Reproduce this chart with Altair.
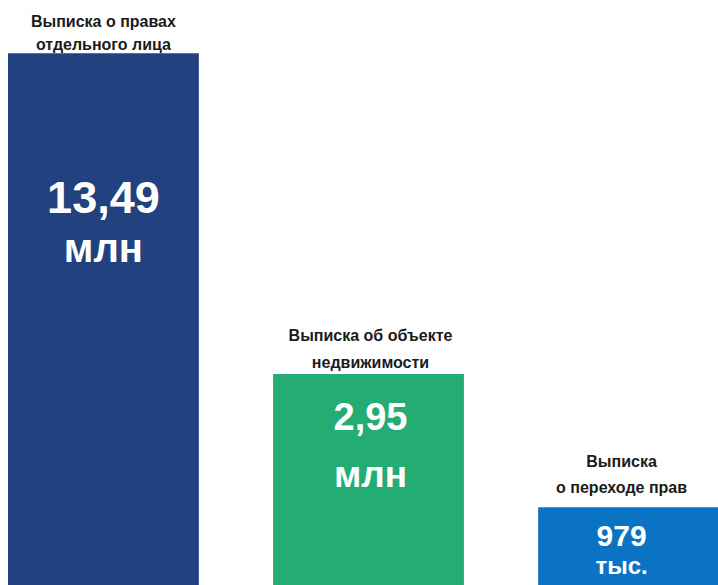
import altair as alt
import pandas as pd

# ---- data ----
titles = ["Выписка о правах\nотдельного лица",
          "Выписка об объекте\nнедвижимости",
          "Выписка\nо переходе прав"]
values = [13.49, 2.95, 0.979]          # millions
value_labels = ["13,49", "2,95", "979"]
unit_labels = ["млн", "млн", "тыс."]
colors = ["#22427f", "#23ad75", "#0b73c3"]

df = pd.DataFrame({
    "cat": titles,
    "value": values,
    "num": value_labels,
    "unit": unit_labels,
    "idx": list(range(len(titles))),
})

# ---- per-bar label styling (infographic look) ----
title_dy = [-26, -33, -40]
title_lh = [23, 27, 26]
title_size = [16, 16, 16]
text_dx = [0, 2, -12]
num_dy = [160, 56, 39]
num_size = [45, 38, 30]
unit_dy = [209, 113, 67]
unit_size = [40, 37, 24]

W, H = 718, 585

x = alt.X("cat:N", sort=titles, axis=None,
          scale=alt.Scale(range=[8, 729], paddingInner=0.28, paddingOuter=0))
y = alt.Y("value:Q", axis=None,
          scale=alt.Scale(type="pow", exponent=0.42, domain=[0.3586, 16.14],
                          zero=False, nice=False))

bars = alt.Chart(df).mark_bar(clip=True).encode(
    x=x, y=y, y2=alt.value("height"),
    color=alt.Color("cat:N", scale=alt.Scale(domain=titles, range=colors), legend=None),
)

layers = [bars]
font = "Liberation Sans"
for i in range(len(titles)):
    base = alt.Chart(df).transform_filter(alt.datum.idx == i)
    layers.append(base.mark_text(font=font, fontSize=title_size[i], fontWeight="bold",
                                 color="#1b1b1b", baseline="alphabetic", align="center",
                                 lineBreak="\n", lineHeight=title_lh[i], dy=title_dy[i],
                                 dx=text_dx[i]
                                 ).encode(x=x, y=y, text="cat:N"))
    layers.append(base.mark_text(font=font, fontSize=num_size[i], fontWeight="bold",
                                 color="white", baseline="alphabetic", align="center",
                                 dy=num_dy[i], dx=text_dx[i]).encode(x=x, y=y, text="num:N"))
    layers.append(base.mark_text(font=font, fontSize=unit_size[i], fontWeight="bold",
                                 color="white", baseline="alphabetic", align="center",
                                 dy=unit_dy[i], dx=text_dx[i]).encode(x=x, y=y, text="unit:N"))

chart = alt.layer(*layers).properties(
    width=W, height=H,
    autosize=alt.AutoSizeParams(type="none"),
    padding=0,
    background="white",
).configure_view(stroke=None)

chart.save("out.html", embed_options={"renderer": "svg", "actions": False})
